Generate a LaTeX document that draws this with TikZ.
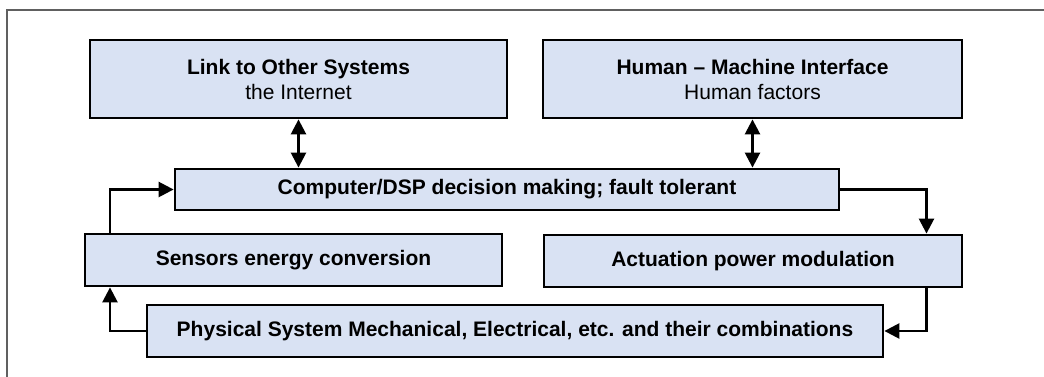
\documentclass[tikz,border=0pt]{standalone}
\usepackage{fontspec}
\setmainfont{Liberation Sans}
\usetikzlibrary{arrows.meta,calc}
\definecolor{boxfill}{HTML}{D9E2F3}
\definecolor{framegray}{HTML}{606060}
\begin{document}
\begin{tikzpicture}[x=1pt,y=1pt,
  blk/.style={draw=black,line width=2.8pt,fill=boxfill,inner sep=0pt,
    align=center,font=\fontsize{21}{25}\selectfont\bfseries},
  conn/.style={line width=2.5pt,draw=black},
  tip/.style={-{Triangle[length=15pt,width=15pt]}},
  bitip/.style={{Triangle[length=15pt,width=15pt]}-{Triangle[length=15pt,width=15pt]}}]
\useasboundingbox (0,0) rectangle (1044,377);
\draw[framegray,line width=2pt] (7,0) -- (7,367) -- (1044,367);
% boxes (y measured from top: y_tikz = 377 - y)
\node[blk,minimum width=417pt,minimum height=78pt] (link) at (298.5,298)
  {Link to Other Systems\\\mdseries the Internet};
\node[blk,minimum width=419pt,minimum height=78pt] (hmi) at (752.5,298)
  {Human -- Machine Interface\\\mdseries Human factors};
\node[blk,minimum width=664pt,minimum height=41pt] (comp) at (507,187.5)
  {Computer/DSP decision making; fault tolerant};
\node[blk,minimum width=417pt,minimum height=52pt] (sens) at (293.5,117)
  {Sensors energy conversion};
\node[blk,minimum width=418pt,minimum height=52pt] (act) at (753,116)
  {Actuation power modulation};
\node[blk,minimum width=736pt,minimum height=52pt] (phys) at (515,46)
  {Physical System Mechanical, Electrical, etc. and their combinations};
\coordinate (lx) at (110,0);
\coordinate (rx) at (926.5,0);
% connectors
\draw[conn,bitip] (link.south) -- (link.south |- comp.north);
\draw[conn,bitip] (hmi.south) -- (hmi.south |- comp.north);
\draw[conn,tip] (comp.east) -| (act.north -| rx);
\draw[conn,tip] (act.south -| rx) |- (phys.east);
\draw[conn,tip] (phys.west) -| (sens.south -| lx);
\draw[conn,tip] (sens.north -| lx) |- (comp.west);
\end{tikzpicture}
\end{document}
